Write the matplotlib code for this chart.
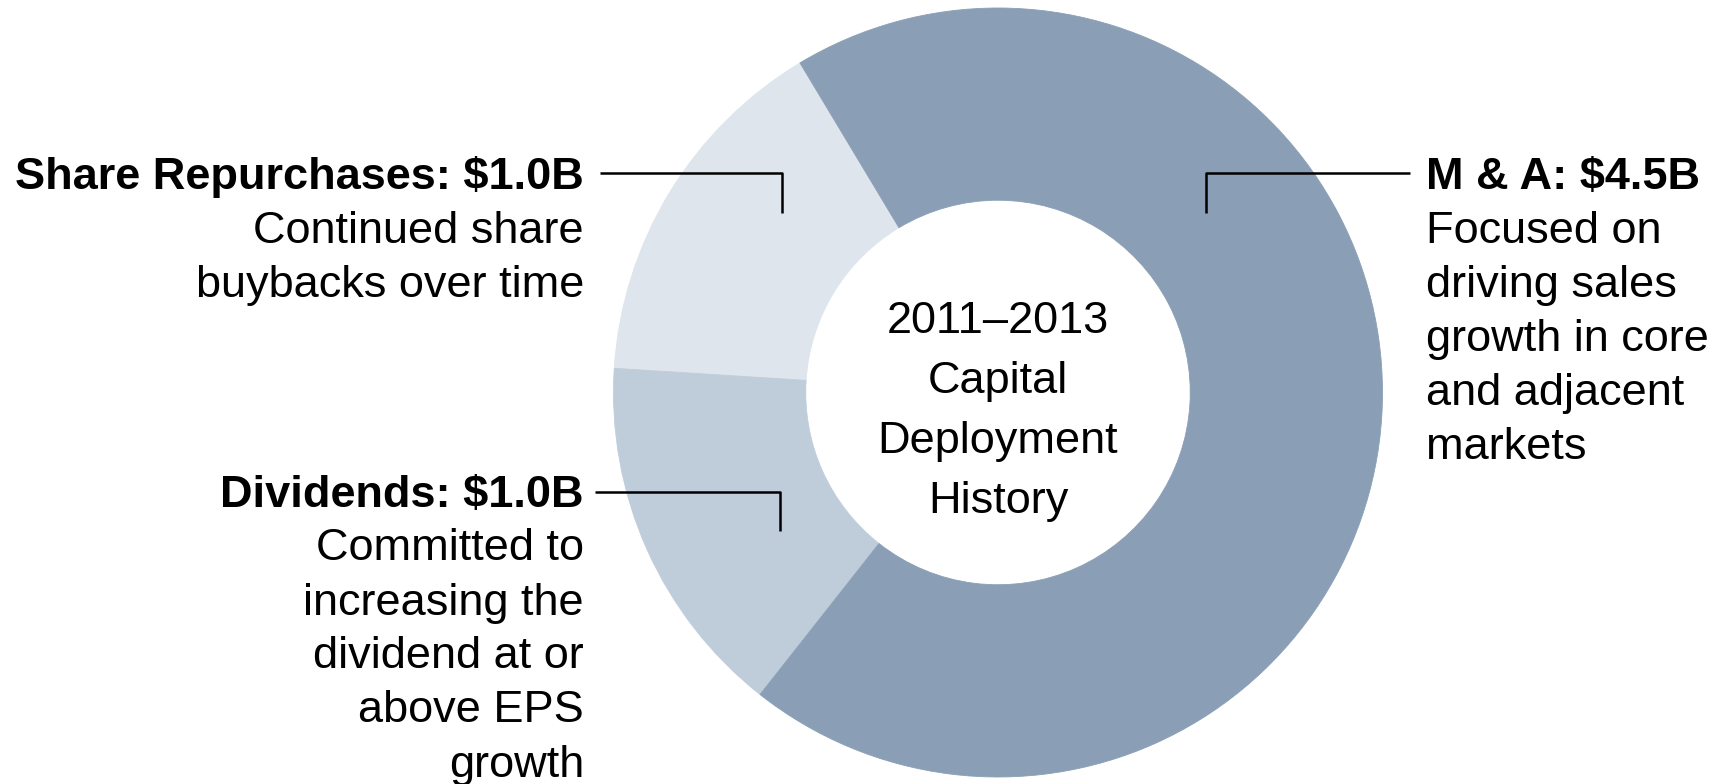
import matplotlib.pyplot as plt

plt.rcParams['font.family'] = ['Liberation Sans', 'DejaVu Sans']

# data
segments = ["Share Repurchases", "Dividends", "M & A"]
amounts = [1.0, 1.0, 4.5]          # $B
seg_colors = ["#dfe5ed", "#bfcddb", "#8a9fb6"]
titles = ["Share Repurchases: \\$1.0B", "Dividends: \\$1.0B", "M & A: \\$4.5B"]
notes = [
    ["Continued share", "buybacks over time"],
    ["Committed to", "increasing the", "dividend at or", "above EPS", "growth"],
    ["Focused on", "driving sales", "growth in core", "and adjacent", "markets"],
]
center_lines = ["2011\u20132013", "Capital", "Deployment", "History"]

W, H = 1727, 784
fig = plt.figure(figsize=(W / 100, H / 100), dpi=100)
ax = fig.add_axes([0, 0, 1, 1])

cx, cy, R = 998, H - 392.5, 384.5
wedges, _ = ax.pie(amounts, colors=seg_colors, startangle=121, counterclock=True,
                   radius=R, center=(cx, cy), wedgeprops=dict(width=R * 0.5, linewidth=0.6))
for w in wedges:
    w.set_edgecolor(w.get_facecolor())

ax.set_xlim(0, W)
ax.set_ylim(0, H)
ax.set_aspect('equal')
ax.axis('off')

fs = 32.5
step = 54

def put_lines(lines, x, y0, ha, dy=step):
    for i, s in enumerate(lines):
        ax.text(x, H - (y0 + i * dy), s, ha=ha, va='center', fontsize=fs, color='black')

# labels (pixel positions, y measured from top)
label_pos = [(584, 177, 'right'), (584, 495, 'right'), (1426, 177, 'left')]
for (x, y, ha), t, n in zip(label_pos, titles, notes):
    ax.text(x, H - y, t, ha=ha, va='center', fontsize=fs, fontweight='bold', color='black')
    put_lines(n, x, y + step, ha)

# leader lines
leaders = [
    ([600, 782, 782], [173, 173, 213]),
    ([595, 780, 780], [492, 492, 531]),
    ([1410, 1206, 1206], [173, 173, 213]),
]
for xs, ys in leaders:
    ax.plot(xs, [H - v for v in ys], color='black', linewidth=1.8, solid_capstyle='butt')

put_lines(center_lines, cx, 321, 'center', dy=60)

fig.savefig("out.png", dpi=100)
